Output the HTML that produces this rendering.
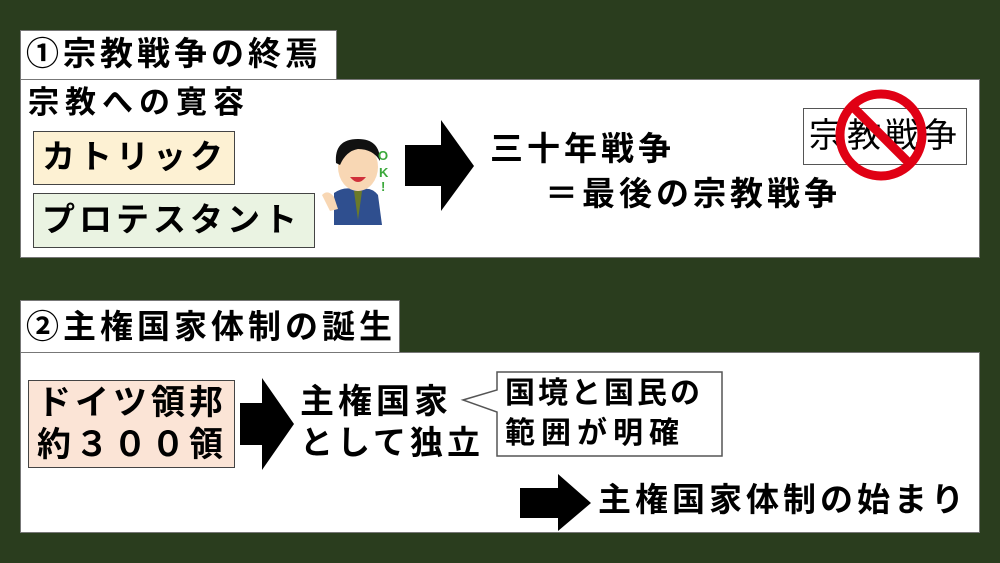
<!DOCTYPE html>
<html><head><meta charset="utf-8"><style>
*{margin:0;padding:0;box-sizing:border-box}
body{width:1000px;height:563px;background:#2a3d1e;position:relative;overflow:hidden;font-family:"Liberation Sans","Noto Sans CJK JP",sans-serif;font-weight:bold;color:#000}
.a{position:absolute}
.box{position:absolute;background:#fff;border:1px solid #777}
.t{position:absolute;white-space:nowrap;line-height:1;font-size:33px;letter-spacing:4px}
</style></head><body>
<div class="box" style="left:20px;top:30px;width:317px;height:50px"></div>
<div class="t" style="left:26px;top:37px">①宗教戦争の終焉</div>
<div class="box" style="left:20px;top:79px;width:960px;height:179px"></div>
<div class="t" style="left:28px;top:87px;font-size:31px;letter-spacing:6px">宗教への寛容</div>
<div class="box" style="left:33px;top:131px;width:202px;height:54px;background:#fdf1d3;border-color:#444"></div>
<div class="t" style="left:42px;top:140px">カトリック</div>
<div class="box" style="left:33px;top:193px;width:282px;height:55px;background:#eaf3e2;border-color:#444"></div>
<div class="t" style="left:42px;top:203px">プロテスタント</div>
<svg class="a" style="left:318px;top:125px" width="80" height="105" viewBox="0 0 80 105">
<path d="M16 68 Q28 60 40 66 Q52 60 60 70 L64 100 L16 100Z" fill="#2f4f8f"/>
<path d="M36 66 L40 95 L44 66Z" fill="#6b7a2a"/>
<ellipse cx="40" cy="42" rx="20" ry="24" fill="#f8d7b4"/>
<path d="M18 38 Q16 14 40 14 Q62 14 62 36 Q55 24 40 24 Q28 26 22 40Z" fill="#111"/>
<path d="M32 52 Q40 62 48 52Z" fill="#d0303a"/>
<path d="M4 70 Q10 64 16 72 L20 84 L12 86Z" fill="#f8d7b4"/>
<text x="60" y="35" font-size="13" font-weight="bold" fill="#3aa83a" font-family="Liberation Sans">O</text>
<text x="61" y="52" font-size="13" font-weight="bold" fill="#3aa83a" font-family="Liberation Sans">K</text>
<text x="63" y="66" font-size="13" font-weight="bold" fill="#3aa83a" font-family="Liberation Sans">!</text>
</svg>
<svg class="a" style="left:405px;top:120px" width="70" height="92"><polygon points="0,25 36,25 36,0 69,46 36,91 36,66 0,66" fill="#000"/></svg>
<div class="t" style="left:490px;top:132px">三十年戦争</div>
<div class="t" style="left:545px;top:177px">＝最後の宗教戦争</div>
<div class="box" style="left:803px;top:108px;width:164px;height:57px;border-color:#555"></div>
<div class="t" style="left:809px;top:119px;font-size:34px;font-weight:normal;letter-spacing:4px">宗教戦争</div>
<svg class="a" style="left:834px;top:88px" width="94" height="94"><circle cx="47" cy="47" r="41" fill="none" stroke="#e00014" stroke-width="9"/><line x1="18" y1="18" x2="76" y2="76" stroke="#e00014" stroke-width="9"/></svg>
<div class="box" style="left:20px;top:300px;width:380px;height:53px"></div>
<div class="t" style="left:26px;top:310px">②主権国家体制の誕生</div>
<div class="box" style="left:20px;top:352px;width:960px;height:181px"></div>
<div class="box" style="left:28px;top:380px;width:207px;height:88px;background:#fbe4d6;border-color:#444"></div>
<div class="t" style="left:37px;top:386px;font-size:34px">ドイツ領邦</div>
<div class="t" style="left:37px;top:428px;font-size:34px">約３００領</div>
<svg class="a" style="left:240px;top:378px" width="55" height="94"><polygon points="0,25 22,25 22,0 54,46 22,92 22,67 0,67" fill="#000"/></svg>
<div class="t" style="left:300px;top:385px;font-size:34px">主権国家</div>
<div class="t" style="left:300px;top:426px;font-size:33px">として独立</div>
<svg class="a" style="left:460px;top:370px" width="264" height="90"><polygon points="37,2 262,2 262,86 37,86 37,42 3,30 37,20" fill="#fff" stroke="#555" stroke-width="1.5"/></svg>
<div class="t" style="left:505px;top:379px;font-size:30px;letter-spacing:3px">国境と国民の</div>
<div class="t" style="left:505px;top:419px;font-size:30px;letter-spacing:6px">範囲が明確</div>
<svg class="a" style="left:520px;top:474px" width="72" height="58"><polygon points="0,14 38,14 38,0 71,29 38,57 38,44 0,44" fill="#000"/></svg>
<div class="t" style="left:598px;top:483px">主権国家体制の始まり</div>
</body></html>
